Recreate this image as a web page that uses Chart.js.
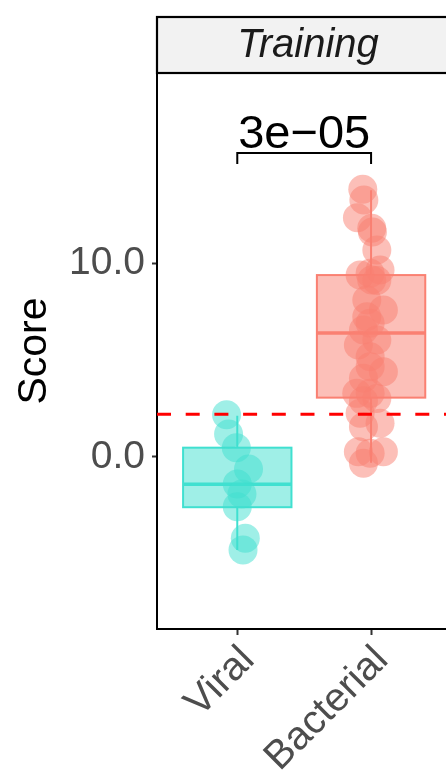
<!DOCTYPE html>
<html>
<head>
<meta charset="utf-8">
<script src="https://cdn.jsdelivr.net/npm/chart.js@4"></script>
<style>
  body { margin: 0; background: #fff; overflow: hidden; }
  canvas { display: block; }
</style>
</head>
<body>
<canvas id="myChart" width="446" height="776"></canvas>
<script>
const categories = ["Viral", "Bacterial"];

const viralScores = [2.18, 1.19, 0.48, -0.62, -1.39, -1.91, -2.56, -4.19, -4.79];
const viralJitter = [-0.08, -0.065, -0.007, 0.084, 0.0, 0.035, 0.0, 0.06, 0.043];

const bacterialScores = [
  13.8, 13.25, 12.34, 11.79, 11.6, 10.67, 9.64, 9.38, 9.47, 9.12, 9.1,
  8.09, 7.58, 7.23, 6.89, 6.55, 6.03, 5.77, 5.17, 4.4, 4.65, 4.06,
  3.28, 3.28, 3.02, 2.9, 2.25, 1.74, 1.56, 0.27, 0.19, 0.27, -0.32,
];
const bacterialJitter = [
  -0.062, -0.054, -0.102, 0.005, 0.01, 0.043, 0.067, -0.082, -0.007, 0.005, 0.043,
  -0.032, 0.092, -0.032, -0.007, -0.057, 0.043, -0.095, -0.007, 0.092, -0.007, -0.057,
  -0.107, -0.007, 0.043, -0.057, -0.082, 0.067, -0.057, -0.095, -0.007, 0.092, -0.057,
];

// min, q1, median, q3, max
const viralBox = [-4.79, -2.59, -1.41, 0.48, 2.13];
const bacterialBox = [-0.3, 3.06, 6.39, 9.38, 13.76];

const yTicks = [0, 10];
const threshold = 2.2;
const pValue = "3e\u221205";
const bracketValue = 15.67;
const panelTitle = "Training";

const colors = ["rgb(64, 224, 208)", "rgb(250, 128, 114)"];
const fills = ["rgba(64, 224, 208, 0.5)", "rgba(250, 128, 114, 0.5)"];
const boxes = [viralBox, bacterialBox];
const font = "'Liberation Sans', Arial, Helvetica, sans-serif";

const extras = {
  id: "extras",
  beforeDatasetsDraw(chart) {
    const { ctx, scales: { x, y } } = chart;
    boxes.forEach((b, i) => {
      const cx = x.getPixelForValue(i + 1);
      const half = x.getPixelForValue(i + 1 + 0.405) - cx;
      const top = y.getPixelForValue(b[3]);
      const bot = y.getPixelForValue(b[1]);
      ctx.save();
      ctx.strokeStyle = colors[i];
      ctx.lineWidth = 2;
      ctx.beginPath();
      ctx.moveTo(cx, y.getPixelForValue(b[4]));
      ctx.lineTo(cx, top);
      ctx.moveTo(cx, bot);
      ctx.lineTo(cx, y.getPixelForValue(b[0]));
      ctx.stroke();
      ctx.fillStyle = fills[i];
      ctx.fillRect(cx - half, top, half * 2, bot - top);
      ctx.strokeRect(cx - half, top, half * 2, bot - top);
      ctx.lineWidth = 3.5;
      ctx.beginPath();
      const my = y.getPixelForValue(b[2]);
      ctx.moveTo(cx - half, my);
      ctx.lineTo(cx + half, my);
      ctx.stroke();
      ctx.restore();
    });
  },
  afterDatasetsDraw(chart) {
    const { ctx, chartArea, scales: { x, y } } = chart;
    ctx.save();
    // threshold line
    const ty = y.getPixelForValue(threshold);
    ctx.strokeStyle = "#ff0000";
    ctx.lineWidth = 3;
    ctx.setLineDash([14, 14.7]);
    ctx.beginPath();
    ctx.moveTo(chartArea.left, ty);
    ctx.lineTo(chartArea.right, ty);
    ctx.stroke();
    ctx.setLineDash([]);

    // bracket and p-value
    const x1 = x.getPixelForValue(1);
    const x2 = x.getPixelForValue(2);
    const by = y.getPixelForValue(bracketValue);
    ctx.strokeStyle = "#000";
    ctx.lineWidth = 2;
    ctx.beginPath();
    ctx.moveTo(x1, by + 11);
    ctx.lineTo(x1, by);
    ctx.lineTo(x2, by);
    ctx.lineTo(x2, by + 11);
    ctx.stroke();
    ctx.fillStyle = "#000";
    ctx.font = "47px " + font;
    ctx.textAlign = "center";
    ctx.textBaseline = "alphabetic";
    ctx.fillText(pValue, (x1 + x2) / 2, by - 5);

    // strip
    const stripTop = 17;
    ctx.fillStyle = "#f2f2f2";
    ctx.fillRect(chartArea.left, stripTop, chartArea.right + 20 - chartArea.left, chartArea.top - stripTop);
    ctx.strokeStyle = "#000";
    ctx.lineWidth = 2.2;
    ctx.strokeRect(chartArea.left, stripTop, chartArea.right + 20 - chartArea.left, chartArea.top - stripTop);
    ctx.fillStyle = "#1a1a1a";
    ctx.font = "italic 40px " + font;
    ctx.textBaseline = "middle";
    ctx.fillText(panelTitle, chartArea.left + 151, (stripTop + chartArea.top) / 2 + 1);
    ctx.restore();
  },
};

const ctx = document.getElementById("myChart");
new Chart(ctx, {
  type: "scatter",
  data: {
    datasets: [
      {
        label: categories[0],
        data: viralScores.map((v, i) => ({ x: 1 + viralJitter[i], y: v })),
        backgroundColor: fills[0],
        borderWidth: 0,
        pointRadius: 14.5,
        pointHoverRadius: 14.5,
      },
      {
        label: categories[1],
        data: bacterialScores.map((v, i) => ({ x: 2 + bacterialJitter[i], y: v })),
        backgroundColor: fills[1],
        borderWidth: 0,
        pointRadius: 14.5,
        pointHoverRadius: 14.5,
      },
    ],
  },
  options: {
    responsive: false,
    animation: false,
    layout: { autoPadding: false, padding: { top: 73, left: 0, right: 0, bottom: 0 } },
    plugins: {
      legend: { display: false },
      tooltip: { enabled: false },
    },
    scales: {
      x: {
        type: "linear",
        min: 0.4,
        max: 2.56,
        afterBuildTicks: (scale) => {
          scale.ticks = categories.map((c, i) => ({ value: i + 1 }));
        },
        afterFit: (scale) => {
          scale.height = 147;
          scale.paddingLeft = 0;
          scale.paddingRight = 0;
        },
        ticks: {
          autoSkip: false,
          minRotation: 45,
          maxRotation: 45,
          padding: 2,
          labelOffset: 11,
          color: "#4d4d4d",
          font: { family: font, size: 40 },
          callback: (v) => categories[v - 1],
        },
        grid: {
          drawOnChartArea: false,
          drawTicks: true,
          tickLength: 6,
          tickWidth: 2,
          color: "#333",
        },
        border: { display: true, color: "#000", width: 2 },
      },
      y: {
        min: -8.87,
        max: 19.8,
        afterBuildTicks: (scale) => {
          scale.ticks = yTicks.map((v) => ({ value: v }));
        },
        afterFit: (scale) => {
          scale.width = 157;
        },
        ticks: {
          padding: 7,
          color: "#4d4d4d",
          font: { family: font, size: 39 },
          callback: (v) => v.toFixed(1),
        },
        grid: {
          drawOnChartArea: false,
          drawTicks: true,
          tickLength: 5,
          tickWidth: 2,
          color: "#333",
        },
        border: { display: true, color: "#000", width: 2 },
        title: {
          display: true,
          text: "Score",
          color: "#000",
          font: { family: font, size: 41 },
          padding: { top: 10, bottom: 0 },
        },
      },
    },
  },
  plugins: [extras],
});
</script>
</body>
</html>
